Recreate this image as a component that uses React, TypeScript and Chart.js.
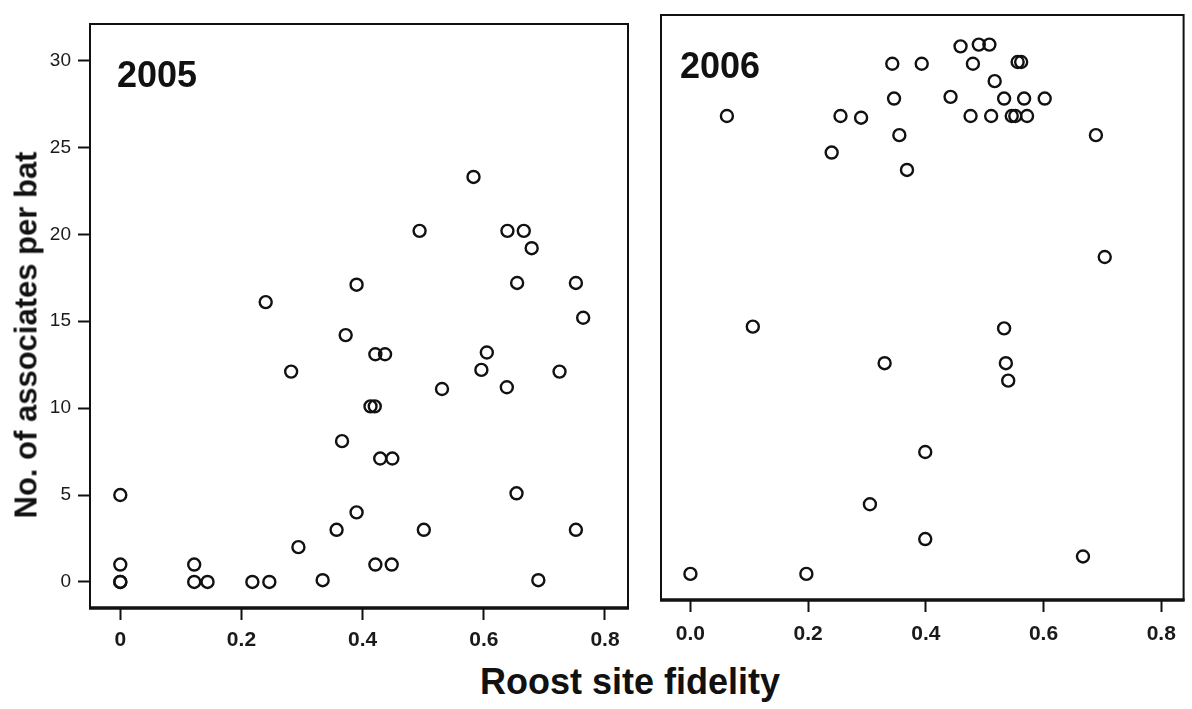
import React, { useEffect, useRef } from "react";
import { Chart, registerables } from "chart.js";

Chart.register(...registerables);

// ---------- data ----------
const fidelity2005 = [
  0.583, 0.494, 0.639, 0.666, 0.679, 0.39, 0.655, 0.752, 0.24, 0.764,
  0.372, 0.421, 0.437, 0.605, 0.282, 0.596, 0.725, 0.531, 0.638, 0.413,
  0.42, 0.366, 0.429, 0.449, 0.654, 0.0, 0.39, 0.357, 0.501, 0.752,
  0.294, 0.421, 0.448, 0.0, 0.122, 0.0, 0.0, 0.122, 0.144, 0.218,
  0.246, 0.334, 0.69,
];
const associates2005 = [
  23.3, 20.2, 20.2, 20.2, 19.2, 17.1, 17.2, 17.2, 16.1, 15.2,
  14.2, 13.1, 13.1, 13.2, 12.1, 12.2, 12.1, 11.1, 11.2, 10.1,
  10.1, 8.1, 7.1, 7.1, 5.1, 5.0, 4.0, 3.0, 3.0, 3.0,
  2.0, 1.0, 1.0, 1.0, 1.0, 0.0, 0.0, 0.0, 0.0, 0.0,
  0.0, 0.1, 0.1,
];

const fidelity2006 = [
  0.062, 0.255, 0.29, 0.24, 0.343, 0.393, 0.346, 0.355, 0.368, 0.459,
  0.49, 0.508, 0.48, 0.556, 0.562, 0.517, 0.442, 0.533, 0.567, 0.602,
  0.476, 0.511, 0.546, 0.552, 0.572, 0.689, 0.704, 0.106, 0.533, 0.33,
  0.536, 0.54, 0.399, 0.305, 0.399, 0.667, 0.0, 0.197,
];
const associates2006 = [
  26.3, 26.3, 26.2, 24.2, 29.3, 29.3, 27.3, 25.2, 23.2, 30.3,
  30.4, 30.4, 29.3, 29.4, 29.4, 28.3, 27.4, 27.3, 27.3, 27.3,
  26.3, 26.3, 26.3, 26.3, 26.3, 25.2, 18.2, 14.2, 14.1, 12.1,
  12.1, 11.1, 7.0, 4.0, 2.0, 1.0, 0.0, 0.0,
];

const xTickValues = [0, 0.2, 0.4, 0.6, 0.8];
const xTickLabels2005 = ["0", "0.2", "0.4", "0.6", "0.8"];
const xTickLabels2006 = ["0.0", "0.2", "0.4", "0.6", "0.8"];
const yTickValues = [0, 5, 10, 15, 20, 25, 30];
const yTickLabels = ["0", "5", "10", "15", "20", "25", "30"];
const panelLabels = ["2005", "2006"];
const yTitle = "No. of associates per bat";
const xTitle = "Roost site fidelity";

const X_MIN = -0.05;
const X_MAX = 0.838;
const Y_MIN = -1.5;
const Y_MAX = 32.1;

const FONT = '"Liberation Sans", Arial, Helvetica, sans-serif';

const framePlugin = {
  id: "frame",
  beforeDatasetsDraw(chart: any, _args: any, opts: any) {
    const { ctx, chartArea: a } = chart;
    ctx.save();
    ctx.strokeStyle = "#111";
    ctx.lineWidth = 2;
    ctx.strokeRect(a.left, a.top, a.right - a.left, a.bottom - a.top);
    ctx.lineWidth = 3.5;
    ctx.beginPath();
    ctx.moveTo(a.left - 1, a.bottom);
    ctx.lineTo(a.right + 1, a.bottom);
    ctx.stroke();
    ctx.fillStyle = "#111";
    ctx.font = `bold 36px ${FONT}`;
    ctx.textBaseline = "alphabetic";
    ctx.textAlign = "left";
    ctx.fillText(opts.text, a.left + opts.dx, opts.baseline);
    ctx.restore();
  },
};

function makeConfig(
  xs: number[],
  ys: number[],
  xLabels: string[],
  showY: boolean,
  padding: any,
  xHeight: number,
  xPad: number,
  label: string,
  labelDx: number,
  labelBaseline: number
): any {
  const data = xs.map((x, i) => ({ x, y: ys[i] }));
  return {
    type: "scatter",
    data: {
      datasets: [
        {
          data,
          pointStyle: "circle",
          pointRadius: 6,
          pointBorderWidth: 2.4,
          pointBorderColor: "#111",
          pointBackgroundColor: "rgba(0,0,0,0)",
        },
      ],
    },
    options: {
      responsive: false,
      animation: false,
      devicePixelRatio: 1,
      layout: { padding },
      plugins: {
        legend: { display: false },
        tooltip: { enabled: false },
        frame: { text: label, dx: labelDx, baseline: labelBaseline },
      },
      scales: {
        x: {
          type: "linear",
          min: X_MIN,
          max: X_MAX,
          afterBuildTicks: (s: any) => {
            s.ticks = xTickValues.map((v) => ({ value: v }));
          },
          afterFit: (s: any) => {
            s.height = xHeight;
          },
          border: { display: false },
          grid: {
            display: true,
            drawOnChartArea: false,
            drawTicks: true,
            tickLength: 12,
            tickWidth: 2,
            tickColor: "#111",
          },
          ticks: {
            autoSkip: false,
            maxRotation: 0,
            padding: xPad,
            color: "#1a1a1a",
            font: { family: FONT, size: 21, weight: "bold" },
            callback: (_v: any, i: number) => xLabels[i],
          },
        },
        y: {
          type: "linear",
          display: showY,
          min: Y_MIN,
          max: Y_MAX,
          afterBuildTicks: (s: any) => {
            s.ticks = yTickValues.map((v) => ({ value: v }));
          },
          afterFit: (s: any) => {
            s.width = showY ? 90 : 0;
          },
          border: { display: false },
          grid: {
            display: true,
            drawOnChartArea: false,
            drawTicks: true,
            tickLength: 12,
            tickWidth: 2,
            tickColor: "#111",
          },
          ticks: {
            autoSkip: false,
            padding: 7,
            color: "#1a1a1a",
            font: { family: FONT, size: 19 },
            callback: (_v: any, i: number) => yTickLabels[i],
          },
        },
      },
    },
    plugins: [framePlugin],
  };
}

function Panel(props: { config: any; left: number; width: number; height: number }) {
  const ref = useRef<HTMLCanvasElement | null>(null);
  useEffect(() => {
    if (!ref.current) return;
    const chart = new Chart(ref.current, props.config);
    return () => chart.destroy();
  }, []);
  return (
    <canvas
      ref={ref}
      width={props.width}
      height={props.height}
      style={{
        position: "absolute",
        left: props.left,
        top: 0,
        width: props.width,
        height: props.height,
      }}
    />
  );
}

export default function App() {
  const cfg2005 = makeConfig(
    fidelity2005,
    associates2005,
    xTickLabels2005,
    true,
    { top: 24, right: 12, left: 0, bottom: 0 },
    52,
    8,
    panelLabels[0],
    27,
    87
  );
  const cfg2006 = makeConfig(
    fidelity2006,
    associates2006,
    xTickLabels2006,
    false,
    { top: 15, right: 4, left: 21, bottom: 0 },
    60,
    10,
    panelLabels[1],
    19,
    78
  );
  return (
    <div
      style={{
        position: "fixed",
        left: 0,
        top: 0,
        width: 1192,
        height: 709,
        background: "#fff",
        overflow: "hidden",
      }}
    >
      <Panel config={cfg2005} left={0} width={640} height={660} />
      <Panel config={cfg2006} left={640} width={552} height={660} />
      <div
        style={{
          position: "absolute",
          left: 26,
          top: 335,
          transform: "translate(-50%, -50%) rotate(-90deg)",
          whiteSpace: "nowrap",
          font: `bold 31px ${FONT}`,
          lineHeight: "31px",
          color: "#111",
        }}
      >
        {yTitle}
      </div>
      <div
        style={{
          position: "absolute",
          left: 630,
          top: 664,
          transform: "translateX(-50%)",
          whiteSpace: "nowrap",
          font: `bold 36px ${FONT}`,
          lineHeight: "36px",
          color: "#111",
        }}
      >
        {xTitle}
      </div>
    </div>
  );
}
